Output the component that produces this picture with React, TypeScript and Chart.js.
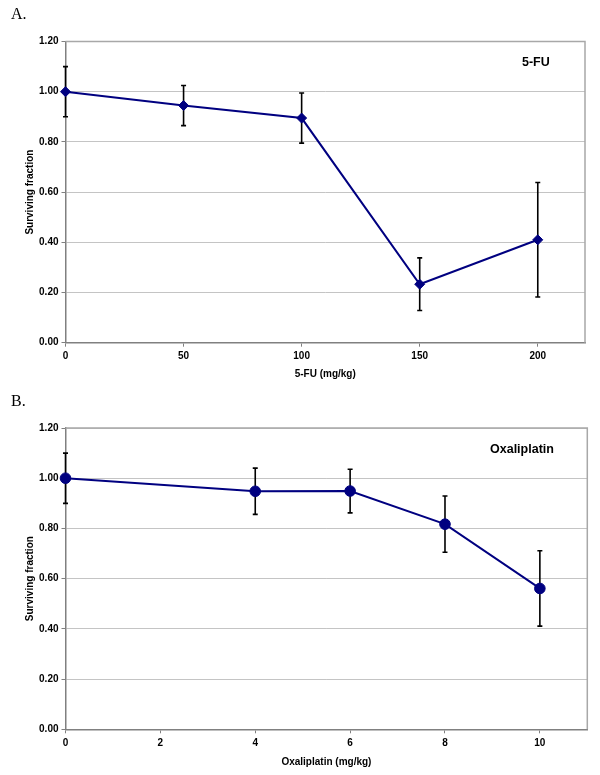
import React, { useEffect, useRef } from "react";
import { Chart, registerables } from "chart.js";

Chart.register(...registerables);

// ---- Data ----
const fuDoses = [0, 50, 100, 150, 200];
const fuSurvival = [1.0, 0.945, 0.895, 0.233, 0.41];
const fuError = [0.1, 0.08, 0.1, 0.105, 0.228];

const oxDoses = [0, 4, 6, 8, 10];
const oxSurvival = [1.0, 0.948, 0.949, 0.817, 0.561];
const oxError = [0.1, 0.092, 0.087, 0.112, 0.15];

const yMin = 0;
const yMax = 1.2;
const yStep = 0.2;

const FONT = "'Liberation Sans', Arial, Helvetica, sans-serif";
const NAVY = "#000080";

const errorBarPlugin = {
  id: "errorBars",
  beforeDatasetsDraw(chart: any) {
    const { ctx, chartArea } = chart;
    // plot area frame (top & right edges)
    ctx.save();
    ctx.strokeStyle = "#a8a8a8";
    ctx.lineWidth = 1.5;
    ctx.beginPath();
    ctx.moveTo(chartArea.left, chartArea.top);
    ctx.lineTo(chartArea.right, chartArea.top);
    ctx.lineTo(chartArea.right, chartArea.bottom);
    ctx.stroke();
    ctx.restore();

    const errs: number[] = chart.options.plugins.errorBars?.errors || [];
    const meta = chart.getDatasetMeta(0);
    const yScale = chart.scales.y;
    const values = chart.data.datasets[0].data as any[];
    ctx.save();
    ctx.strokeStyle = "#000000";
    ctx.lineWidth = 1.6;
    meta.data.forEach((pt: any, i: number) => {
      const v = values[i].y;
      const e = errs[i] || 0;
      const x = pt.x;
      const yTop = yScale.getPixelForValue(v + e);
      const yBot = yScale.getPixelForValue(v - e);
      const cap = 2.5;
      ctx.beginPath();
      ctx.moveTo(x, yTop);
      ctx.lineTo(x, yBot);
      ctx.moveTo(x - cap, yTop);
      ctx.lineTo(x + cap, yTop);
      ctx.moveTo(x - cap, yBot);
      ctx.lineTo(x + cap, yBot);
      ctx.stroke();
    });
    ctx.restore();
  },
};

type PanelProps = {
  doses: number[];
  values: number[];
  errors: number[];
  xMax: number;
  xStep: number;
  pointStyle: string;
  pointRadius: number;
  xTitle: string;
  height: number;
  plotTop: number;
  plotBottom: number;
  plotLeft: number;
  plotRight: number;
  xTitlePad: number;
};

function Panel(p: PanelProps) {
  const ref = useRef<HTMLCanvasElement | null>(null);
  useEffect(() => {
    if (!ref.current) return;
    const xAxisHeight = p.height - p.plotBottom;
    const chart = new Chart(ref.current, {
      type: "line",
      data: {
        datasets: [
          {
            data: p.doses.map((d, i) => ({ x: d, y: p.values[i] })),
            borderColor: NAVY,
            backgroundColor: NAVY,
            borderWidth: 2,
            pointStyle: p.pointStyle as any,
            pointRadius: p.pointRadius,
            pointBorderWidth: 1,
            pointBackgroundColor: NAVY,
            pointBorderColor: NAVY,
            tension: 0,
            clip: false as any,
          },
        ],
      },
      options: {
        responsive: false,
        devicePixelRatio: 1,
        animation: false,
        layout: {
          padding: { top: p.plotTop, right: 600 - p.plotRight, left: 0, bottom: 0 },
        },
        plugins: {
          legend: { display: false },
          tooltip: { enabled: false },
          errorBars: { errors: p.errors },
        } as any,
        scales: {
          x: {
            type: "linear",
            min: 0,
            max: p.xMax,
            afterFit(scale: any) {
              scale.height = xAxisHeight;
            },
            ticks: {
              stepSize: p.xStep,
              includeBounds: false,
              color: "#000",
              font: { family: FONT, size: 10, weight: "bold" },
              padding: 4,
              maxRotation: 0,
            },
            grid: {
              drawOnChartArea: false,
              drawTicks: true,
              tickLength: 4,
              tickColor: "#808080",
              color: "#808080",
            },
            border: { color: "#808080", width: 1.5 },
            title: {
              display: true,
              text: p.xTitle,
              color: "#000",
              font: { family: FONT, size: 10, weight: "bold" },
              padding: { top: 0, bottom: p.xTitlePad },
            },
          },
          y: {
            type: "linear",
            min: yMin,
            max: yMax,
            afterFit(scale: any) {
              scale.width = p.plotLeft;
            },
            ticks: {
              stepSize: yStep,
              color: "#000",
              font: { family: FONT, size: 10, weight: "bold" },
              padding: 3,
              callback: (v: any) => Number(v).toFixed(2),
            },
            grid: {
              color: "#c4c4c4",
              lineWidth: 1,
              drawTicks: true,
              tickLength: 4,
              tickColor: "#808080",
            },
            border: { color: "#808080", width: 1.5 },
            title: {
              display: true,
              text: "Surviving fraction",
              color: "#000",
              font: { family: FONT, size: 10, weight: "bold" },
              padding: { top: 24, bottom: 0 },
            },
          },
        },
      } as any,
      plugins: [errorBarPlugin],
    });
    return () => chart.destroy();
  }, []);
  return <canvas ref={ref} width={600} height={p.height} style={{ display: "block" }} />;
}

export default function App() {
  return (
    <div
      style={{
        position: "absolute",
        left: 0,
        top: 0,
        width: 600,
        height: 775,
        background: "#fff",
        overflow: "hidden",
      }}
    >
      <div style={{ position: "absolute", left: 0, top: 0 }}>
        <Panel
          doses={fuDoses}
          values={fuSurvival}
          errors={fuError}
          xMax={220}
          xStep={50}
          pointStyle="rectRot"
          pointRadius={5}
          xTitle="5-FU (mg/kg)"
          height={385}
          plotTop={41.5}
          plotBottom={342.7}
          plotLeft={65.5}
          plotRight={585}
          xTitlePad={5}
        />
      </div>
      <div style={{ position: "absolute", left: 0, top: 385 }}>
        <Panel
          doses={oxDoses}
          values={oxSurvival}
          errors={oxError}
          xMax={11}
          xStep={2}
          pointStyle="circle"
          pointRadius={5.3}
          xTitle="Oxaliplatin (mg/kg)"
          height={390}
          plotTop={43}
          plotBottom={344.3}
          plotLeft={65.5}
          plotRight={587.3}
          xTitlePad={7}
        />
      </div>
      <div
        style={{
          position: "absolute",
          left: 11,
          top: 4,
          fontFamily: "'Liberation Serif', 'Times New Roman', serif",
          fontSize: 16,
          lineHeight: "20px",
        }}
      >
        A.
      </div>
      <div
        style={{
          position: "absolute",
          left: 11,
          top: 391,
          fontFamily: "'Liberation Serif', 'Times New Roman', serif",
          fontSize: 16,
          lineHeight: "20px",
        }}
      >
        B.
      </div>
      <div
        style={{
          position: "absolute",
          left: 522,
          top: 54,
          fontFamily: FONT,
          fontSize: 12.5,
          fontWeight: "bold",
          lineHeight: "16px",
        }}
      >
        5-FU
      </div>
      <div
        style={{
          position: "absolute",
          left: 490,
          top: 441,
          fontFamily: FONT,
          fontSize: 12.5,
          fontWeight: "bold",
          lineHeight: "16px",
        }}
      >
        Oxaliplatin
      </div>
    </div>
  );
}
